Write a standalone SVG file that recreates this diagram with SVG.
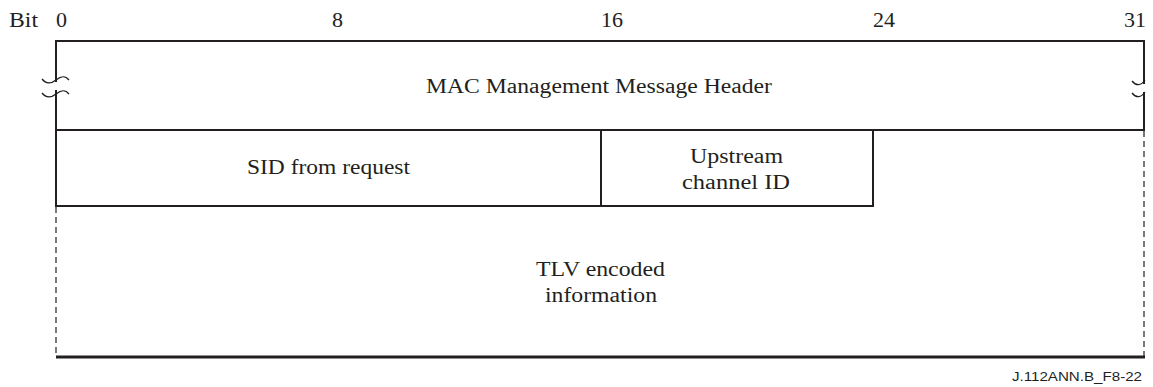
<svg xmlns="http://www.w3.org/2000/svg" width="1153" height="387" viewBox="0 0 1153 387">
<style>
text.t{font-family:'Liberation Serif','Times New Roman',serif;font-size:20.5px;fill:#231f20}
text.c{text-anchor:middle}
.box{fill:none;stroke:#231f20;stroke-width:2}
.dash{stroke:#231f20;stroke-width:1.2;stroke-dasharray:6,4;fill:none}
.wave{fill:none;stroke:#231f20;stroke-width:1.3}
</style>
<rect width="1153" height="387" fill="#fff"/>
<g id="bits">
<text class="t" x="9" y="27" textLength="29" lengthAdjust="spacingAndGlyphs">Bit</text>
<text class="t" x="56" y="27" textLength="11" lengthAdjust="spacingAndGlyphs">0</text>
<text class="t" x="332" y="27" textLength="11" lengthAdjust="spacingAndGlyphs">8</text>
<text class="t" x="601" y="27" textLength="22" lengthAdjust="spacingAndGlyphs">16</text>
<text class="t" x="873" y="27" textLength="22" lengthAdjust="spacingAndGlyphs">24</text>
<text class="t" x="1124" y="27" textLength="22" lengthAdjust="spacingAndGlyphs">31</text>
</g>
<g id="header">
<rect class="box" x="56" y="41" width="1088" height="89"/>
<rect x="50" y="82" width="12" height="8" fill="#fff"/>
<rect x="1138" y="84" width="12" height="8" fill="#fff"/>
<path class="wave" d="M42,79 C46,84 51,84 56,80 S65,75 69,80 M42,93 C46,98 51,98 56,94 S65,89 69,94"/>
<path class="wave" d="M1132,81 C1136,86 1141,86 1145,80 M1132,93 C1136,98 1141,98 1145,92"/>
<text class="t" x="426" y="93" textLength="346" lengthAdjust="spacingAndGlyphs">MAC Management Message Header</text>
</g>
<g id="sid">
<rect class="box" x="56" y="130" width="545" height="76"/>
<text class="t" x="247" y="174" textLength="163" lengthAdjust="spacingAndGlyphs">SID from request</text>
</g>
<g id="upstream">
<rect class="box" x="601" y="130" width="272" height="76"/>
<text class="t" x="690" y="163" textLength="93" lengthAdjust="spacingAndGlyphs">Upstream</text>
<text class="t" x="682" y="189" textLength="108" lengthAdjust="spacingAndGlyphs">channel ID</text>
</g>
<g id="tlv">
<path class="dash" d="M56,207 V356 M1144,131 V356"/>
<line x1="56" y1="357" x2="1145" y2="357" stroke="#231f20" stroke-width="3"/>
<text class="t" x="536" y="276" textLength="129" lengthAdjust="spacingAndGlyphs">TLV encoded</text>
<text class="t" x="545" y="302" textLength="112" lengthAdjust="spacingAndGlyphs">information</text>
</g>
<text x="1012" y="381" textLength="130" lengthAdjust="spacingAndGlyphs" font-family="Liberation Sans, Arial, sans-serif" font-size="13.5" fill="#231f20">J.112ANN.B_F8-22</text>
</svg>
